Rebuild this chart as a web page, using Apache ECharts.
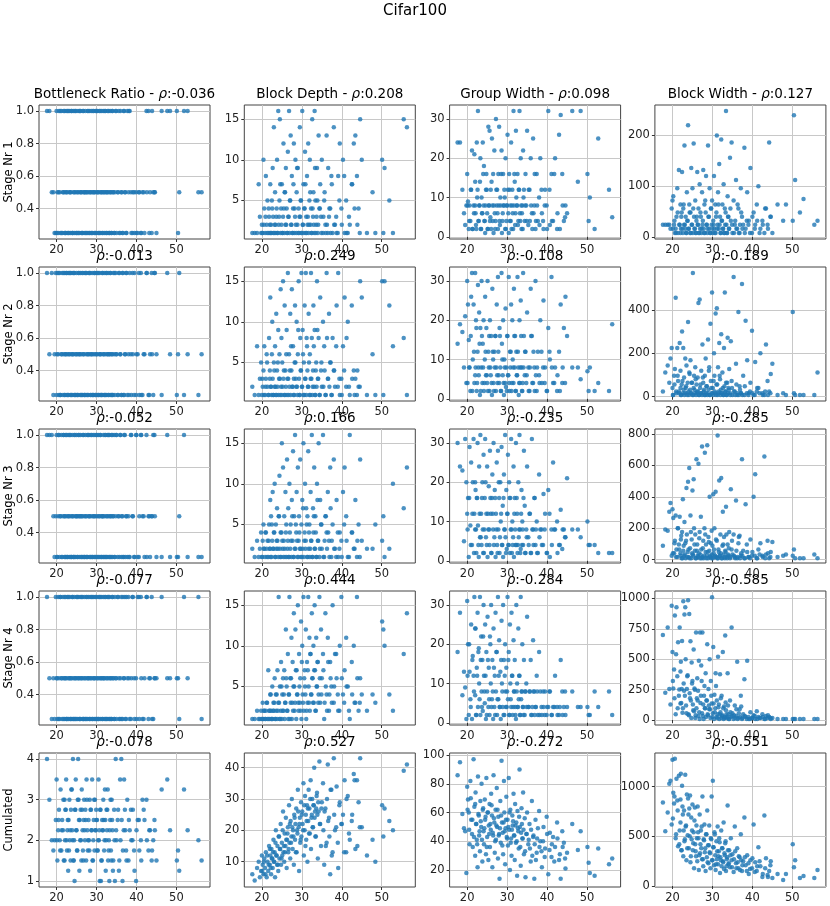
<!DOCTYPE html>
<html>
<head>
<meta charset="utf-8">
<script src="https://cdn.jsdelivr.net/npm/echarts@6/dist/echarts.min.js"></script>
<style>
  html, body { margin: 0; padding: 0; background: #fff; }
  #chart { width: 830px; height: 906px; }
</style>
</head>
<body>
<div id="chart"></div>
<script>
// error (x) shared by every panel, one entry per model
const X = [
  17.6, 18.2, 18.8, 19.2, 19.5, 19.8, 20.0, 20.2, 20.4, 20.6,
  20.8, 21.0, 21.2, 21.4, 21.6, 21.8, 22.0, 22.1, 22.3, 22.4,
  22.6, 22.7, 22.9, 23.0, 23.2, 23.3, 23.5, 23.6, 23.8, 23.9,
  24.1, 24.2, 24.4, 24.5, 24.7, 24.8, 25.0, 25.1, 25.3, 25.4,
  25.6, 25.7, 25.9, 26.0, 26.2, 26.3, 26.5, 26.6, 26.8, 26.9,
  27.1, 27.2, 27.4, 27.5, 27.7, 27.8, 28.0, 28.1, 28.3, 28.4,
  28.6, 28.7, 28.9, 29.0, 29.2, 29.3, 29.5, 29.6, 29.8, 29.9,
  30.1, 30.2, 30.4, 30.5, 30.7, 30.8, 31.0, 31.1, 31.3, 31.4,
  31.6, 31.7, 31.9, 32.0, 32.2, 32.3, 32.5, 32.6, 32.8, 32.9,
  33.1, 33.2, 33.4, 33.6, 33.8, 34.0, 34.2, 34.4, 34.6, 34.8,
  35.0, 35.3, 35.6, 35.9, 36.2, 36.5, 36.8, 37.1, 37.4, 37.7,
  38.0, 38.3, 38.7, 39.1, 39.5, 39.9, 40.3, 40.7, 41.1, 41.5,
  42.0, 42.5, 43.0, 43.4, 43.8, 44.2, 44.6, 45.0, 46.3, 47.7,
  48.4, 50.1, 50.4, 50.7, 51.9, 52.8, 55.5, 56.3,
  20.1, 20.5, 20.9, 21.3, 21.7, 22.0, 22.2, 22.5, 22.8, 23.1,
  23.4, 23.7, 24.0, 24.3, 24.6, 24.9, 25.2, 25.5, 25.8, 26.1,
  26.4, 26.7, 27.0, 27.3, 27.6, 27.9, 28.2, 28.5, 28.8, 29.1,
  29.4, 29.7, 30.0, 30.3, 30.6, 30.9, 31.2, 31.5, 31.8, 32.1,
  32.4, 32.7, 33.0, 33.3, 33.5, 33.7, 33.9, 34.1, 34.5, 34.9,
  35.4, 35.7, 36.0, 36.3, 36.6, 36.9, 37.2, 37.5, 38.1, 38.6,
  39.0, 39.4, 40.0, 40.6, 41.2, 41.8, 42.6, 43.2, 43.9, 44.5
];

// bottleneck ratio
const BR1 = [
  1, 1, .5, .5, .25, .25, 1, .5, .25, 1,
  .5, .25, 1, .25, .5, 1, .25, .5, .25, 1,
  .5, .25, 1, .25, .5, 1, .25, .5, 1, .25,
  .25, 1, .5, .25, 1, .5, .25, 1, .25, .5,
  1, .25, .5, 1, .25, .5, .25, 1, .5, .25,
  .5, 1, .25, .5, .25, 1, .5, .25, 1, .5,
  .25, 1, .5, .25, .5, 1, .25, .5, 1, .25,
  .5, 1, .25, .5, 1, .25, .5, .25, 1, .5,
  .25, 1, .5, .25, 1, .5, .25, .5, 1, .25,
  .5, .25, 1, .5, .25, 1, .5, .25, .5, 1,
  .25, .5, 1, .25, .5, .25, 1, .5, .25, 1,
  .5, 1, .25, .5, .25, .5, .25, .5, .25, .5,
  .25, 1, 1, .5, .25, .5, .5, .25, 1, 1,
  1, 1, .25, .5, 1, 1, .5, .5,
  .25, .5, 1, .25, .5, 1, .25, .5, 1, .25,
  .5, 1, .25, .5, 1, .25, .5, .25, 1, .5,
  .25, 1, .5, .25, .5, 1, .25, .5, .25, 1,
  .5, .25, 1, .5, .25, 1, .5, .25, .5, 1,
  .25, .5, 1, .25, .5, .25, 1, .5, .25, 1,
  .5, .25, 1, .5, .25, 1, .5, .25, 1, .5,
  .25, .5, .25, .5, .25, .5, .5, .25, 1, .5
];
const BR2 = [
  1, .5, 1, .25, .5, 1, .25, 1, .5, .25,
  1, .25, .5, 1, .25, .5, 1, .25, .5, 1,
  .25, .5, 1, .25, 1, .5, .25, 1, .5, .25,
  1, .5, .25, 1, .25, .5, 1, .25, .5, .25,
  1, .5, .25, 1, .5, .25, .25, 1, .5, .25,
  1, .25, .5, 1, .25, .5, .25, 1, .5, 1,
  .25, .5, 1, .25, .5, .25, 1, .5, .25, 1,
  .5, .25, 1, .25, .5, 1, .25, .5, .25, 1,
  .25, .5, 1, .25, .5, .25, 1, .25, .5, 1,
  .25, .5, 1, .25, .5, .25, 1, .5, .25, 1,
  .5, .25, 1, .5, .25, 1, .25, .5, 1, .25,
  .5, 1, .25, .5, 1, .25, .5, .25, 1, .25,
  .5, 1, .25, .5, 1, .25, 1, .5, .25, 1,
  .5, .25, .5, 1, .25, .5, .25, .5,
  .5, 1, .25, .5, 1, .25, .5, 1, .25, .5,
  1, .25, .5, 1, .25, .5, .25, 1, .5, .25,
  1, .5, .25, 1, .25, .5, 1, .25, .5, .25,
  1, .25, .5, 1, .25, .5, .25, 1, .5, .25,
  1, .5, .25, .5, 1, .25, .5, .25, 1, .5,
  .25, 1, .5, .25, 1, .25, .5, 1, .25, .5,
  1, .25, .5, 1, .25, .5, 1, .25, .5, 1
];
const BR3 = [
  1, 1, 1, .5, .25, .5, 1, .25, .5, 1,
  .25, .5, 1, .25, .5, 1, .25, .5, 1, .25,
  .5, .25, 1, .5, .25, 1, .25, .5, .25, 1,
  .5, .25, 1, .25, .5, .25, 1, .5, .25, .5,
  1, .25, .5, 1, .25, .5, .25, 1, .25, .5,
  .25, 1, .5, .25, 1, .25, .5, 1, .25, .5,
  1, .25, .5, .25, 1, .5, .25, 1, .5, .25,
  1, .5, .25, 1, .25, .5, 1, .25, .5, .25,
  .5, 1, .25, .5, .25, 1, .5, .25, 1, .25,
  .5, 1, .25, .5, 1, .25, .5, 1, .25, .5,
  1, .25, .5, 1, .25, .5, .25, 1, .5, .25,
  .5, .25, 1, .5, .25, 1, .25, .5, 1, .5,
  .25, 1, .5, .25, .5, 1, .5, .25, .25, 1,
  .25, .25, .25, .5, 1, .25, .25, .25,
  .25, 1, .5, .25, 1, .5, .25, 1, .25, .5,
  1, .25, .5, .25, 1, .5, .25, 1, .5, .25,
  .5, 1, .25, .5, .25, 1, .5, .25, 1, .25,
  .5, .25, 1, .25, .5, 1, .25, .5, .25, 1,
  .25, .5, 1, .25, .5, .25, 1, .5, .25, 1,
  .5, .25, 1, .5, .25, 1, .25, .5, .25, 1,
  .5, .25, 1, .25, 1, .5, .25, .5, .5, 1
];
const BR4 = [
  1, .5, .25, .5, .25, 1, .5, .25, 1, .5,
  .25, 1, .5, .25, 1, .5, .25, .5, 1, .25,
  .5, .25, 1, .25, .5, 1, .25, .5, .25, 1,
  .25, .5, 1, .25, .5, .25, 1, .5, .25, 1,
  .5, .25, 1, .25, .5, 1, .25, .5, .25, 1,
  .25, .5, 1, .25, .5, .25, 1, .5, .25, 1,
  .25, .5, 1, .25, .5, 1, .25, .5, .25, 1,
  .5, .25, 1, .25, .5, 1, .25, .5, 1, .25,
  .5, 1, .25, .5, .25, 1, .5, .25, 1, .25,
  .5, 1, .25, .5, .25, 1, .5, .25, 1, .5,
  .25, 1, .5, .25, 1, .25, .5, 1, .25, .5,
  1, .25, .5, 1, .25, .5, 1, .25, 1, .25,
  .5, 1, .25, .5, 1, .25, .5, .5, 1, .5,
  .5, .5, .5, .25, 1, .5, 1, .25,
  .5, .25, 1, .5, .25, 1, .5, .25, 1, .5,
  .25, .5, 1, .25, .5, .25, 1, .5, .25, .5,
  1, .25, .5, .25, 1, .5, .25, .5, 1, .25,
  .5, 1, .25, .5, .25, 1, .5, .25, .5, 1,
  .25, .5, 1, .25, .5, .25, 1, .5, .25, .5,
  1, .25, .5, .25, 1, .5, .25, 1, .5, .25,
  1, .5, .25, 1, .5, .25, 1, .5, .25, .5
];
const BRC = [
  4, 3, 2, 1.75, 2, 2.5, 3.5, 1.5, 2.25, 2.75,
  2, 3.25, 1.75, 2.5, 2.25, 1.5, 3, 2, 2.75, 3.5,
  1.75, 2.25, 1.25, 2.5, 3, 2, 1.5, 2.75, 3.25, 2.25,
  4, 1.5, 2, 1, 2.75, 3.5, 2.25, 1.75, 3, 4,
  2.5, 1.25, 2, 2.75, 1.5, 3.25, 2.25, 1.75, 2.5, 3,
  2, 2.75, 1.5, 3.5, 2.25, 1.75, 2.5, 2, 3, 1.25,
  2.75, 2.25, 3.5, 1.5, 2, 2.5, 1.75, 3, 2.25, 2.75,
  2.5, 1.75, 2, 3.5, 2.25, 1, 2.75, 1, 1.5, 2.5,
  2.25, 3, 1.75, 2, 2.5, 1.25, 2.75, 2.25, 3.25, 1.5,
  2, 1, 2.5, 1.75, 3, 2.25, 1.5, 2.75, 1, 4,
  2, 2.5, 1.25, 3.5, 4, 1, 2.25, 2.75, 1.75, 3,
  1.5, 2.25, 2, 2.75, 1.25, 1, 2.5, 1.75, 2, 3,
  2.5, 3, 1.75, 2.25, 1.5, 2, 2.25, 1.5, 3.25, 3.5,
  2.25, 1.5, 1.75, 1.25, 3.25, 2.25, 2, 1.5,
  2, 2.5, 1.75, 2.25, 3, 1.5, 2.75, 2, 2.5, 1.75,
  2.25, 3.25, 2, 1.5, 2.75, 2.25, 1.75, 3, 2.5, 2,
  2.75, 1.5, 2.25, 2.5, 3, 2, 1.75, 2.75, 2.25, 1.5,
  3, 2.25, 2.5, 1.75, 2, 2.75, 1.5, 2.25, 2.5, 3.25,
  2, 2.75, 1.75, 2.25, 3, 1.5, 2.5, 1.25, 2, 2.25,
  2.75, 1.5, 2, 2.5, 1.75, 3.5, 2.25, 1.5, 2.5, 2.75,
  2, 1.75, 2.25, 2.5, 1.5, 2.75, 2, 2.25, 1.75, 2.5
];

// block depth
const BD1 = [
  1, 1, 1, 7, 3, 1, 2, 1, 10, 4,
  1, 8, 2, 5, 1, 3, 1, 7, 2, 1,
  4, 9, 1, 14, 2, 6, 1, 3, 10, 1,
  16, 2, 5, 15, 1, 4, 7, 1, 3, 12,
  1, 6, 2, 9, 4, 1, 11, 3, 16, 1,
  5, 13, 2, 8, 1, 4, 12, 1, 3, 10,
  1, 6, 2, 9, 4, 1, 14, 3, 5, 1,
  16, 2, 7, 1, 4, 11, 1, 3, 8, 2,
  12, 1, 5, 10, 2, 4, 1, 15, 3, 6,
  1, 16, 5, 2, 9, 1, 13, 4, 7, 3,
  10, 1, 5, 2, 13, 1, 3, 4, 8, 1,
  14, 2, 1, 8, 12, 4, 10, 1, 5, 1,
  2, 7, 12, 13, 8, 4, 15, 10, 1, 6,
  1, 10, 1, 9, 5, 1, 15, 14,
  1, 2, 3, 1, 4, 2, 1, 5, 3, 1,
  2, 4, 1, 3, 7, 2, 1, 4, 6, 2,
  1, 3, 5, 2, 1, 7, 4, 2, 9, 1,
  3, 5, 1, 2, 4, 7, 1, 3, 2, 6,
  1, 4, 2, 9, 1, 3, 5, 2, 4, 1,
  3, 6, 1, 2, 9, 4, 1, 7, 2, 3,
  1, 5, 2, 8, 1, 3, 7, 4, 2, 1
];
const BD2 = [
  2, 1, 7, 1, 3, 5, 1, 2, 4, 7,
  1, 3, 6, 2, 1, 8, 4, 13, 2, 1,
  10, 3, 1, 5, 2, 7, 1, 11, 4, 2,
  9, 1, 6, 3, 14, 2, 1, 5, 15, 3,
  1, 12, 4, 2, 9, 1, 16, 3, 6, 2,
  11, 1, 4, 14, 2, 7, 3, 1, 12, 5,
  2, 10, 1, 6, 15, 3, 1, 8, 4, 16,
  2, 9, 1, 5, 12, 3, 16, 1, 7, 4,
  2, 11, 1, 6, 3, 16, 8, 1, 4, 12,
  2, 9, 1, 5, 15, 3, 8, 1, 13, 4,
  2, 10, 7, 1, 16, 3, 11, 5, 1, 8,
  4, 2, 12, 16, 1, 3, 7, 13, 2, 10,
  1, 12, 4, 3, 1, 2, 15, 13, 1, 6,
  1, 15, 1, 15, 12, 7, 8, 1,
  3, 1, 2, 5, 1, 3, 2, 6, 1, 4,
  2, 1, 5, 3, 1, 8, 2, 4, 1, 6,
  3, 1, 4, 7, 2, 1, 5, 3, 2, 9,
  1, 4, 2, 6, 1, 3, 8, 2, 5, 1,
  3, 2, 7, 1, 4, 2, 9, 3, 1, 5,
  2, 4, 1, 8, 3, 2, 5, 1, 4, 7,
  2, 3, 1, 4, 8, 2, 3, 1, 4, 2
];
const BD3 = [
  2, 1, 3, 1, 2, 4, 1, 3, 5, 2,
  1, 4, 2, 3, 1, 5, 2, 8, 6, 1,
  3, 9, 2, 4, 10, 1, 5, 2, 7, 3,
  1, 6, 11, 2, 4, 1, 15, 3, 12, 1,
  6, 2, 9, 4, 1, 13, 3, 7, 1, 10,
  2, 5, 1, 8, 3, 14, 1, 6, 16, 2,
  4, 9, 1, 12, 3, 6, 2, 13, 1, 5,
  8, 2, 15, 1, 4, 10, 3, 7, 1, 6,
  14, 2, 5, 1, 9, 3, 16, 1, 7, 4,
  12, 2, 6, 1, 10, 3, 15, 1, 8, 5,
  2, 16, 1, 6, 4, 9, 3, 12, 1, 5,
  13, 2, 8, 1, 4, 3, 9, 12, 6, 1,
  16, 4, 2, 8, 1, 5, 13, 3, 2, 2,
  5, 3, 6, 1, 2, 10, 7, 12,
  1, 2, 4, 1, 3, 2, 1, 5, 2, 4,
  1, 3, 2, 6, 1, 4, 2, 3, 1, 5,
  2, 1, 4, 3, 6, 1, 2, 5, 3, 1,
  4, 2, 1, 7, 3, 2, 5, 1, 4, 2,
  3, 1, 6, 2, 4, 1, 8, 3, 2, 5,
  1, 3, 6, 2, 4, 1, 7, 3, 2, 1,
  4, 2, 1, 5, 3, 1, 4, 2, 3, 1
];
const BD4 = [
  1, 1, 2, 1, 1, 2, 1, 3, 1, 2,
  1, 2, 3, 1, 7, 2, 1, 4, 2, 1,
  5, 1, 3, 2, 6, 1, 4, 2, 1, 7,
  3, 16, 1, 5, 2, 8, 1, 4, 6, 2,
  7, 1, 3, 12, 5, 2, 9, 1, 4, 16,
  6, 3, 11, 1, 8, 2, 14, 5, 3, 12,
  1, 7, 4, 15, 2, 9, 3, 6, 13, 1,
  10, 4, 16, 2, 7, 5, 12, 1, 8, 3,
  16, 5, 11, 2, 9, 4, 14, 6, 3, 10,
  7, 15, 2, 11, 5, 8, 4, 16, 3, 12,
  6, 9, 1, 14, 4, 11, 2, 8, 5, 15,
  3, 9, 6, 2, 10, 16, 4, 7, 11, 5,
  1, 8, 10, 3, 16, 2, 6, 4, 2, 4,
  3, 13, 12, 10, 4, 2, 9, 14,
  1, 2, 1, 3, 1, 2, 4, 1, 2, 3,
  1, 4, 2, 3, 1, 5, 2, 4, 3, 6,
  2, 4, 1, 6, 3, 5, 2, 7, 4, 3,
  5, 2, 8, 3, 6, 4, 2, 7, 3, 9,
  4, 6, 3, 7, 2, 5, 8, 3, 6, 4,
  7, 3, 5, 2, 8, 4, 6, 3, 5, 9,
  4, 2, 6, 3, 5, 2, 4, 3, 6, 3
];
const BDC = [
  6, 4, 8, 10, 5, 7, 12, 9, 6, 11,
  8, 13, 5, 10, 7, 15, 9, 12, 6, 14,
  11, 8, 17, 10, 13, 5, 20, 12, 9, 15,
  7, 18, 11, 14, 22, 9, 16, 12, 26, 13,
  10, 19, 15, 24, 8, 17, 21, 13, 28, 16,
  11, 23, 18, 30, 14, 20, 9, 25, 17, 22,
  27, 13, 19, 33, 21, 7, 24, 16, 29, 18,
  26, 22, 35, 12, 20, 31, 25, 17, 28, 10,
  23, 33, 27, 19, 36, 14, 25, 30, 21, 28,
  40, 24, 18, 27, 32, 11, 26, 42, 22, 15,
  29, 35, 9, 27, 16, 41, 24, 6, 33, 13,
  43, 20, 34, 8, 29, 22, 25, 36, 13, 31,
  17, 23, 38, 14, 36, 29, 43, 21, 12, 17,
  10, 28, 18, 27, 23, 20, 39, 41,
  7, 10, 6, 12, 9, 14, 8, 11, 13, 10,
  16, 12, 9, 18, 14, 11, 20, 15, 13, 17,
  19, 14, 22, 16, 21, 18, 24, 13, 20, 26,
  22, 17, 25, 20, 28, 15, 23, 27, 19, 30,
  24, 21, 28, 26, 18, 31, 25, 29, 22, 27,
  20, 26, 15, 30, 23, 18, 33, 12, 25, 21,
  16, 28, 22, 13, 30, 19, 25, 36, 15, 21
];

// group width
const GW1 = [
  24, 24, 12, 6, 3, 8, 16, 9, 2, 8,
  4, 12, 22, 2, 8, 21, 14, 6, 2, 24,
  12, 32, 4, 8, 14, 20, 2, 10, 6, 24,
  8, 18, 4, 1, 12, 16, 6, 2, 28, 8,
  27, 4, 12, 2, 25, 8, 16, 1, 22, 6,
  4, 30, 8, 12, 2, 16, 28, 4, 10, 8,
  22, 1, 6, 16, 8, 12, 2, 20, 4, 8,
  26, 12, 1, 16, 4, 8, 24, 2, 12, 6,
  32, 8, 14, 3, 27, 10, 8, 16, 4, 12,
  32, 6, 20, 2, 8, 22, 12, 4, 16, 8,
  27, 3, 12, 20, 6, 25, 8, 2, 16, 4,
  10, 20, 6, 2, 12, 8, 32, 3, 16, 4,
  20, 2, 26, 31, 16, 4, 8, 6, 32, 14,
  32, 16, 4, 10, 2, 25, 12, 5,
  8, 4, 12, 2, 6, 8, 3, 10, 4, 8,
  2, 6, 16, 4, 8, 12, 2, 8, 5, 14,
  4, 8, 2, 12, 6, 8, 3, 16, 4, 8,
  10, 2, 8, 6, 12, 4, 8, 2, 16, 6,
  8, 3, 12, 4, 8, 6, 2, 10, 8, 4,
  12, 4, 8, 2, 6, 16, 4, 8, 3, 12,
  4, 8, 2, 12, 4, 16, 6, 2, 8, 5
];
const GW2 = [
  14, 19, 17, 8, 21, 4, 30, 24, 15, 8,
  2, 26, 32, 10, 24, 4, 32, 8, 18, 2,
  12, 29, 6, 22, 1, 18, 8, 30, 4, 14,
  20, 2, 10, 26, 6, 18, 4, 30, 12, 8,
  2, 20, 6, 16, 1, 28, 10, 4, 12, 8,
  16, 2, 24, 6, 31, 12, 4, 18, 8, 2,
  32, 14, 6, 20, 1, 10, 4, 23, 8, 2,
  16, 6, 31, 4, 12, 8, 24, 2, 20, 10,
  4, 28, 8, 16, 2, 12, 6, 31, 8, 1,
  20, 4, 25, 8, 2, 32, 16, 6, 12, 4,
  22, 8, 2, 28, 16, 4, 8, 30, 2, 12,
  6, 20, 4, 25, 8, 2, 18, 10, 31, 4,
  8, 2, 12, 24, 4, 18, 26, 16, 8, 8,
  5, 7, 2, 8, 2, 4, 2, 19,
  4, 8, 16, 2, 12, 6, 20, 4, 8, 14,
  2, 16, 8, 4, 12, 6, 2, 16, 8, 4,
  12, 2, 16, 8, 4, 6, 16, 2, 10, 4,
  8, 3, 16, 6, 2, 12, 4, 8, 16, 2,
  6, 12, 4, 8, 16, 2, 4, 8, 12, 6,
  2, 8, 16, 4, 12, 2, 6, 8, 4, 12,
  8, 4, 2, 12, 8, 4, 6, 2, 8, 4
];
const GW3 = [
  30, 24, 23, 5, 31, 20, 12, 16, 1, 29,
  9, 25, 4, 20, 31, 12, 8, 18, 2, 16,
  30, 9, 1, 24, 6, 32, 12, 4, 20, 8,
  27, 2, 16, 31, 6, 12, 24, 1, 8, 19,
  4, 28, 12, 2, 16, 22, 8, 30, 6, 18,
  1, 12, 25, 4, 28, 8, 16, 2, 20, 10,
  29, 4, 14, 1, 22, 8, 32, 6, 18, 3,
  12, 27, 4, 20, 2, 16, 31, 8, 10, 4,
  24, 1, 16, 8, 30, 4, 12, 2, 20, 6,
  32, 8, 3, 18, 10, 4, 28, 14, 2, 8,
  24, 6, 12, 2, 31, 8, 16, 4, 10, 2,
  22, 8, 4, 17, 12, 2, 18, 1, 8, 25,
  8, 10, 4, 13, 3, 8, 6, 21, 8, 8,
  6, 10, 4, 4, 4, 2, 2, 2,
  8, 16, 4, 12, 2, 20, 8, 16, 4, 12,
  6, 16, 2, 8, 20, 4, 12, 8, 16, 2,
  12, 4, 16, 8, 2, 20, 6, 12, 4, 16,
  8, 2, 12, 4, 16, 8, 2, 6, 12, 4,
  16, 4, 8, 2, 12, 4, 8, 16, 2, 6,
  4, 12, 2, 8, 4, 16, 8, 2, 6, 8,
  4, 8, 2, 12, 4, 8, 2, 4, 8, 6
];
const GW4 = [
  18, 28, 7, 13, 9, 1, 31, 20, 2, 13,
  6, 25, 1, 17, 12, 32, 7, 24, 2, 14,
  28, 4, 19, 10, 32, 2, 22, 8, 16, 3,
  30, 12, 5, 25, 1, 18, 8, 27, 4, 14,
  2, 22, 10, 30, 6, 16, 1, 24, 4, 12,
  28, 8, 18, 2, 32, 6, 21, 4, 13, 1,
  26, 10, 4, 30, 16, 2, 20, 8, 14, 4,
  32, 6, 18, 2, 25, 10, 4, 28, 12, 2,
  21, 8, 16, 4, 1, 30, 10, 4, 24, 6,
  12, 2, 32, 8, 20, 4, 16, 2, 8, 10,
  27, 4, 8, 16, 2, 21, 8, 4, 12, 2,
  18, 8, 2, 4, 8, 2, 4, 8, 2, 4,
  12, 4, 2, 16, 8, 4, 2, 4, 8, 4,
  4, 4, 2, 2, 8, 4, 8, 2,
  12, 20, 4, 16, 8, 24, 2, 12, 18, 6,
  16, 4, 22, 8, 12, 2, 16, 6, 20, 4,
  8, 14, 2, 18, 6, 12, 4, 16, 8, 2,
  12, 4, 8, 16, 2, 6, 12, 4, 8, 2,
  8, 4, 12, 2, 6, 8, 4, 2, 8, 4,
  4, 8, 2, 4, 8, 2, 4, 8, 2, 4,
  8, 2, 4, 8, 2, 4, 2, 4, 2, 8
];
const GWC = [
  86, 95, 59, 49, 47, 18, 78, 69, 60, 38,
  82, 55, 45, 36, 97, 64, 30, 74, 52, 41,
  22, 85, 58, 44, 33, 68, 50, 80, 26, 62,
  47, 38, 69, 55, 31, 84, 43, 60, 27, 51,
  66, 36, 48, 73, 58, 22, 44, 86, 53, 32,
  62, 41, 77, 50, 28, 57, 45, 14, 68, 39,
  96, 53, 46, 31, 82, 60, 24, 49, 71, 43,
  55, 37, 84, 48, 20, 62, 42, 30, 58, 51,
  73, 44, 27, 66, 39, 53, 16, 61, 47, 35,
  90, 50, 23, 63, 42, 74, 31, 56, 15, 45,
  60, 38, 52, 26, 68, 43, 14, 55, 32, 49,
  61, 40, 22, 50, 35, 57, 17, 46, 29, 43,
  36, 53, 27, 14, 47, 39, 21, 32, 52, 34,
  47, 36, 25, 18, 16, 35, 24, 28,
  62, 48, 70, 55, 43, 66, 52, 38, 59, 47,
  54, 41, 63, 49, 57, 36, 60, 45, 52, 65,
  46, 56, 40, 51, 62, 44, 49, 58, 37, 53,
  47, 55, 42, 50, 60, 39, 48, 54, 44, 51,
  40, 49, 57, 36, 46, 52, 42, 48, 33, 45,
  41, 35, 48, 30, 44, 38, 27, 42, 36, 33,
  40, 29, 45, 34, 38, 26, 42, 31, 36, 28
];

// block width
const BW1 = [
  24, 24, 24, 24, 16, 56, 72, 80, 24, 8,
  16, 40, 96, 8, 132, 24, 64, 16, 48, 128,
  8, 56, 24, 180, 16, 40, 8, 88, 32, 220,
  16, 64, 8, 48, 136, 24, 96, 8, 184, 40,
  16, 72, 8, 32, 128, 24, 56, 8, 104, 16,
  40, 8, 88, 24, 132, 16, 64, 8, 48, 120,
  24, 8, 180, 40, 16, 96, 8, 56, 24, 72,
  8, 32, 120, 16, 64, 8, 48, 200, 24, 88,
  16, 144, 40, 8, 192, 32, 64, 16, 104, 8,
  56, 24, 248, 8, 80, 40, 16, 156, 32, 186,
  8, 72, 24, 112, 16, 56, 8, 96, 40, 24,
  176, 16, 88, 32, 136, 8, 48, 24, 64, 100,
  16, 32, 8, 56, 24, 186, 40, 8, 64, 32,
  64, 32, 240, 112, 48, 75, 24, 32,
  16, 32, 8, 48, 24, 8, 40, 16, 64, 24,
  8, 32, 16, 48, 8, 24, 56, 16, 8, 40,
  24, 8, 48, 16, 32, 8, 72, 24, 16, 40,
  8, 56, 16, 24, 8, 40, 16, 64, 24, 8,
  32, 16, 8, 48, 24, 8, 40, 16, 56, 24,
  8, 32, 16, 64, 8, 24, 48, 16, 8, 32,
  24, 8, 40, 16, 32, 8, 24, 56, 16, 40
];
const BW2 = [
  24, 112, 144, 64, 176, 224, 40, 8, 96, 128,
  456, 16, 224, 72, 24, 248, 120, 8, 56, 300,
  16, 224, 88, 8, 176, 40, 144, 16, 64, 344,
  8, 112, 32, 168, 16, 64, 8, 570, 40, 96,
  16, 136, 8, 56, 24, 88, 432, 8, 448, 40,
  16, 120, 8, 240, 64, 24, 8, 96, 176, 16,
  48, 8, 264, 32, 136, 8, 336, 72, 16, 480,
  40, 8, 200, 96, 16, 384, 56, 408, 8, 136,
  24, 248, 80, 8, 288, 16, 112, 40, 8, 224,
  480, 24, 64, 8, 272, 40, 128, 16, 256, 72,
  8, 552, 24, 152, 8, 390, 48, 16, 520, 96,
  8, 350, 168, 16, 64, 304, 8, 160, 24, 40,
  200, 16, 8, 240, 72, 24, 104, 152, 8, 16,
  8, 390, 16, 8, 8, 8, 8, 112,
  8, 56, 24, 96, 16, 40, 8, 72, 32, 16,
  48, 8, 24, 104, 16, 64, 8, 32, 80, 16,
  24, 8, 56, 16, 88, 32, 8, 48, 16, 120,
  8, 40, 16, 72, 24, 8, 56, 16, 96, 32,
  16, 8, 48, 24, 8, 64, 16, 32, 8, 40,
  24, 8, 56, 16, 8, 32, 16, 8, 48, 16,
  8, 24, 16, 8, 40, 16, 8, 24, 8, 16
];
const BW3 = [
  88, 192, 184, 304, 360, 24, 320, 264, 40, 120,
  280, 64, 16, 200, 96, 272, 40, 128, 8, 176,
  384, 56, 24, 240, 104, 8, 456, 160, 48, 496,
  16, 584, 72, 280, 8, 128, 440, 32, 512, 200,
  56, 160, 8, 640, 96, 24, 610, 40, 176, 8,
  272, 64, 720, 16, 120, 8, 200, 680, 48, 96,
  24, 728, 8, 144, 56, 400, 16, 104, 184, 32,
  8, 416, 64, 200, 24, 432, 16, 120, 790, 8,
  48, 504, 24, 160, 520, 8, 88, 304, 32, 144,
  8, 56, 336, 16, 96, 24, 176, 8, 448, 64,
  32, 160, 16, 376, 8, 104, 152, 24, 640, 56,
  8, 352, 48, 16, 128, 24, 400, 544, 8, 64,
  104, 24, 656, 32, 120, 8, 48, 112, 16, 24,
  32, 24, 64, 8, 8, 8, 32, 8,
  40, 104, 16, 200, 64, 24, 152, 8, 88, 32,
  120, 16, 64, 8, 176, 40, 24, 96, 8, 56,
  16, 136, 32, 8, 72, 24, 160, 8, 48, 112,
  24, 8, 88, 40, 16, 128, 8, 64, 24, 40,
  8, 96, 16, 48, 160, 8, 32, 72, 16, 120,
  24, 8, 56, 16, 144, 8, 40, 24, 8, 96,
  16, 8, 48, 24, 8, 32, 16, 8, 40, 16
];
const BW4 = [
  700, 224, 760, 256, 128, 940, 560, 260, 416, 860,
  48, 928, 360, 640, 200, 760, 136, 480, 256, 650,
  96, 976, 240, 868, 928, 500, 56, 256, 368, 984,
  40, 872, 180, 648, 16, 472, 320, 128, 580, 72,
  248, 16, 720, 96, 344, 160, 32, 488, 8, 720,
  200, 448, 56, 720, 128, 8, 280, 96, 384, 24,
  160, 624, 40, 256, 88, 500, 16, 320, 136, 1010,
  56, 600, 8, 208, 96, 384, 24, 160, 48, 520,
  128, 8, 376, 64, 16, 200, 40, 560, 8, 112,
  24, 696, 80, 16, 384, 48, 8, 160, 24, 760,
  56, 8, 120, 32, 480, 16, 88, 200, 8, 48,
  336, 24, 488, 8, 64, 16, 40, 8, 72, 24,
  16, 48, 8, 32, 16, 24, 8, 16, 8, 8,
  8, 8, 8, 8, 8, 8, 8, 8,
  320, 180, 540, 96, 250, 400, 140, 60, 300, 200,
  120, 360, 48, 220, 160, 300, 80, 260, 40, 180,
  240, 64, 140, 320, 32, 200, 96, 160, 48, 120,
  88, 200, 24, 136, 64, 280, 16, 104, 48, 180,
  32, 96, 16, 144, 48, 24, 120, 8, 64, 32,
  40, 16, 88, 8, 56, 24, 112, 16, 32, 8,
  24, 8, 16, 32, 8, 16, 24, 8, 40, 16
];
const BWC = [
  840, 550, 740, 1030, 1060, 620, 1270, 940, 830, 1280,
  480, 1080, 860, 400, 1110, 560, 870, 1130, 360, 1010,
  720, 300, 760, 450, 1120, 600, 260, 920, 510, 880,
  380, 780, 910, 240, 690, 470, 820, 360, 540, 180,
  790, 420, 300, 610, 250, 800, 480, 160, 720, 330,
  560, 380, 270, 900, 200, 470, 620, 340, 150, 520,
  290, 760, 410, 230, 610, 340, 180, 480, 900, 260,
  1060, 390, 210, 540, 310, 160, 450, 270, 600, 220,
  350, 480, 130, 290, 560, 200, 380, 250, 640, 170,
  310, 430, 150, 270, 810, 220, 360, 190, 480, 260,
  320, 140, 600, 230, 380, 180, 290, 520, 150, 250,
  690, 210, 310, 120, 260, 180, 620, 240, 150, 390,
  200, 90, 710, 280, 110, 150, 250, 80, 120, 60,
  120, 420, 190, 260, 80, 100, 80, 160,
  680, 900, 520, 760, 420, 640, 360, 800, 560, 470,
  610, 380, 720, 500, 300, 560, 430, 660, 350, 480,
  540, 310, 420, 600, 270, 460, 380, 520, 240, 410,
  330, 470, 260, 390, 520, 220, 350, 300, 440, 260,
  380, 240, 330, 450, 200, 290, 360, 230, 310, 190,
  270, 350, 180, 240, 300, 160, 260, 210, 290, 150,
  230, 170, 280, 140, 200, 250, 120, 180, 90, 210
];

const COL_NAMES = ['Bottleneck Ratio', 'Block Depth', 'Group Width', 'Block Width'];
const ROW_NAMES = ['Stage Nr 1', 'Stage Nr 2', 'Stage Nr 3', 'Stage Nr 4', 'Cumulated'];
const RHO = [
  ['-0.036', '0.208', '0.098', '0.127'],
  ['-0.013', '0.249', '-0.108', '-0.189'],
  ['-0.052', '0.166', '-0.235', '-0.285'],
  ['-0.077', '0.444', '-0.284', '-0.585'],
  ['-0.078', '0.527', '-0.272', '-0.551']
];
const X_TICKS = [20, 30, 40, 50];
const Y_TICKS = [
  [[0.4, 0.6, 0.8, 1.0], [5, 10, 15], [0, 10, 20, 30], [0, 100, 200]],
  [[0.4, 0.6, 0.8, 1.0], [5, 10, 15], [0, 10, 20, 30], [0, 200, 400, 600]],
  [[0.4, 0.6, 0.8, 1.0], [5, 10, 15], [0, 10, 20, 30], [0, 200, 400, 600, 800]],
  [[0.4, 0.6, 0.8, 1.0], [5, 10, 15], [0, 10, 20, 30], [0, 250, 500, 750, 1000]],
  [[1, 2, 3, 4], [10, 20, 30, 40], [20, 40, 60, 80, 100], [0, 500, 1000]]
];

const SERIES_Y = [
  [BR1, BD1, GW1, BW1],
  [BR2, BD2, GW2, BW2],
  [BR3, BD3, GW3, BW3],
  [BR4, BD4, GW4, BW4],
  [BRC, BDC, GWC, BWC]
];

// axis extents (matplotlib auto margins)
const X_RANGE = [15.6, 58.4];
const Y_RANGE = [
  [[0.2125, 1.0375], [0.25, 16.75], [-0.55, 33.55], [-4, 260]],
  [[0.2125, 1.0375], [0.25, 16.75], [-0.55, 33.55], [-20, 598]],
  [[0.2125, 1.0375], [0.25, 16.75], [-0.55, 33.55], [-22, 832]],
  [[0.2125, 1.0375], [0.25, 16.75], [-0.55, 33.55], [-41, 1061]],
  [[0.85, 4.15], [1.9, 44.7], [8.2, 101.4], [-10, 1339]]
];

(function () {
  var FONT = 'DejaVu Sans';
  var GRID_COLOR = '#c8c8c8';
  var grids = [], xAxes = [], yAxes = [], series = [], titles = [];

  titles.push({
    text: 'Cifar100', left: 415, top: 4, textAlign: 'center', padding: 0,
    textStyle: { fontFamily: FONT, fontSize: 15, fontWeight: 'normal', color: '#000' }
  });

  for (var r = 0; r < 5; r++) {
    for (var c = 0; c < 4; c++) {
      var idx = r * 4 + c;
      var gLeft = 39 + 205.3 * c;
      var gTop = 105 + 162 * r;
      var yr = Y_RANGE[r][c];
      var yt = Y_TICKS[r][c];
      grids.push({
        left: gLeft, top: gTop, width: 171, height: 134,
        show: true, borderColor: '#444', borderWidth: 1
      });
      xAxes.push({
        type: 'value', gridIndex: idx, min: X_RANGE[0], max: X_RANGE[1],
        splitNumber: 5,
        axisLine: { show: false },
        axisTick: { show: true, length: 3, lineStyle: { color: '#333' }, customValues: X_TICKS },
        axisLabel: { customValues: X_TICKS, fontFamily: FONT, fontSize: 11.5, color: '#222', margin: 5 },
        splitLine: { show: true, lineStyle: { color: GRID_COLOR, width: 1 } }
      });
      var fmt = (c === 0 && r < 4)
        ? function (v) { return v.toFixed(1); }
        : function (v) { return String(v); };
      yAxes.push({
        type: 'value', gridIndex: idx, min: yr[0], max: yr[1],
        splitNumber: yt.length,
        name: c === 0 ? ROW_NAMES[r] : '',
        nameLocation: 'middle', nameGap: 24, nameMoveOverlap: false,
        nameTextStyle: { fontFamily: FONT, fontSize: 11.5, color: '#000' },
        axisLine: { show: false },
        axisTick: { show: true, length: 3, lineStyle: { color: '#333' }, customValues: yt },
        axisLabel: { customValues: yt, formatter: fmt, fontFamily: FONT, fontSize: 11.5, color: '#222', margin: 5 },
        splitLine: { show: true, lineStyle: { color: GRID_COLOR, width: 1 } }
      });
      var ys = SERIES_Y[r][c];
      series.push({
        type: 'scatter', xAxisIndex: idx, yAxisIndex: idx,
        symbolSize: 4.5,
        itemStyle: { color: '#1f77b4', opacity: 0.8 },
        data: X.map(function (x, i) { return [x, ys[i]]; })
      });
      var head = r === 0 ? COL_NAMES[c] + ' - ' : '';
      titles.push({
        text: head + '{i|ρ}:' + RHO[r][c],
        left: gLeft + 85.5, top: gTop - 18, textAlign: 'center', padding: 0,
        textStyle: {
          fontFamily: FONT, fontSize: 13.5, fontWeight: 'normal', color: '#000',
          rich: { i: { fontFamily: FONT, fontSize: 13.5, fontStyle: 'italic', color: '#000' } }
        }
      });
    }
  }

  var myChart = echarts.init(document.getElementById('chart'));
  myChart.setOption({
    animation: false,
    backgroundColor: '#fff',
    title: titles,
    grid: grids,
    xAxis: xAxes,
    yAxis: yAxes,
    series: series
  });
})();
</script>
</body>
</html>
